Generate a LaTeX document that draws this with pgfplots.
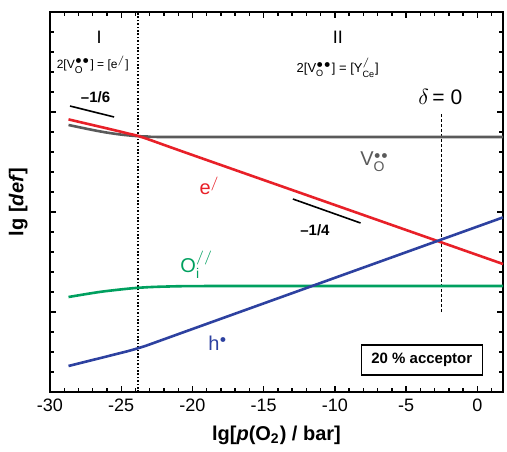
\documentclass[border=0pt]{standalone}
\usepackage{fontspec}
\setmainfont{Liberation Sans}
\usepackage{pgfplots}
\pgfplotsset{compat=1.18}

\definecolor{cred}{RGB}{232,32,40}
\definecolor{cgray}{RGB}{90,90,90}
\definecolor{cgreen}{RGB}{0,160,95}
\definecolor{cblue}{RGB}{45,65,160}
\newcommand{\bb}{{\scriptscriptstyle\bullet}}

\begin{document}
\begin{tikzpicture}
\begin{axis}[
 scale only axis, width=226.5pt, height=190pt,
 xmin=-30, xmax=1.8, ymin=0, ymax=19,
 xtick={-30,-25,...,0}, minor xtick={-30,...,1},
 ytick={4,9,14}, minor ytick={0,...,19}, yticklabels={},
 tick align=inside, major tick length=3pt, minor tick length=1.8pt,
 every tick/.style={black, line width=0.7pt},
 axis line style={line width=1pt},
 /pgf/number format/assume math mode=true,
 ticklabel style={font=\small},
 xlabel={\textbf{lg[\textit{p}(O\textsubscript{2}) / bar]}},
 ylabel={\textbf{lg [\textit{def}]}},
 xlabel style={at={(axis description cs:0.5,-0.113)}, anchor=center},
 ylabel style={at={(axis description cs:-0.07,0.5)}, anchor=center},
 clip=false,
]
\coordinate (ll) at (rel axis cs:0,0);
\coordinate (ur) at (rel axis cs:1,1);
% guide lines
\addplot[black, line width=1.1pt, dash pattern=on 0.8pt off 0.9pt] coordinates {(-23.8,0) (-23.8,19)};
\addplot[black, line width=0.5pt, dash pattern=on 1.5pt off 1pt] coordinates {(-2.55,4) (-2.55,13.95)};
% data curves
\addplot[cgray, line width=1.3pt, smooth] coordinates {(-28.7,13.35) (-27,13.1) (-26,12.97) (-25,12.87) (-24,12.8) (-23,12.77) (-21,12.75) (1.8,12.75)};
\addplot[cred, line width=1.3pt, smooth] coordinates {(-28.7,13.63) (-26,13.18) (-25,13.01) (-24.5,12.92) (-24,12.84) (-23.5,12.73) (-23,12.61) (-20,11.85) (-10,9.35) (0,6.85) (1.8,6.4)};
\addplot[cgreen, line width=1.3pt, smooth] coordinates {(-28.7,4.75) (-27,4.95) (-26,5.05) (-24,5.2) (-22,5.27) (-18,5.3) (1.8,5.3)};
\addplot[cblue, line width=1.3pt, smooth] coordinates {(-28.7,1.3) (-26,1.78) (-25,1.96) (-24.5,2.05) (-24,2.15) (-23.5,2.26) (-23,2.38) (-20,3.15) (-10,5.71) (0,8.27) (1.8,8.73)};
% slope indicators
\addplot[black, line width=0.8pt] coordinates {(-28.6,14.3) (-25.5,13.75)};
\addplot[black, line width=0.8pt] coordinates {(-12.95,9.65) (-8.2,8.45)};
% annotations
\node at (axis cs:-26.56,17.75) {\small I};
\node at (axis cs:-27,16.35) {\fontsize{6}{7}\selectfont 2[$\mathrm{V}_{\mathrm{O}}^{\bb\bb}$] = [$\mathrm{e}^{/}$]};
\node at (axis cs:-9.8,17.75) {\small II};
\node at (axis cs:-9.8,16.2) {\fontsize{6.5}{7}\selectfont 2[$\mathrm{V}_{\mathrm{O}}^{\bb\bb}$] = [$\mathrm{Y}_{\mathrm{Ce}}^{/}$]};
\node at (axis cs:-2.6,14.75) {\fontsize{10.5}{12}\selectfont $\delta$\,= 0};
\node at (axis cs:-26.8,14.75) {\fontsize{7.5}{9}\selectfont\bfseries \textendash1/6};
\node at (axis cs:-11.4,8.1) {\fontsize{7.5}{9}\selectfont\bfseries \textendash1/4};
\node[cgray] at (axis cs:-7.2,11.5) {\fontsize{10}{12}\selectfont $\mathrm{V}_{\mathrm{O}}^{\bb\bb}$};
\node[cred] at (axis cs:-18.8,10.3) {\fontsize{10}{12}\selectfont $\mathrm{e}^{/}$};
\node[cgreen] at (axis cs:-19.7,6.35) {\fontsize{10}{12}\selectfont $\mathrm{O}_{\mathrm{i}}^{//}$};
\node[cblue] at (axis cs:-18.2,2.45) {\fontsize{10}{12}\selectfont $\mathrm{h}^{\bb}$};
\node[draw, line width=0.6pt, minimum width=60.5pt, minimum height=15pt, inner sep=1pt] at (axis cs:-3.9,1.6) {\fontsize{7.5}{9}\selectfont\bfseries 20 \% acceptor};
\end{axis}
\path ([shift={(-25pt,-29.5pt)}]ll) rectangle ([shift={(2pt,6pt)}]ur);
\end{tikzpicture}
\end{document}
